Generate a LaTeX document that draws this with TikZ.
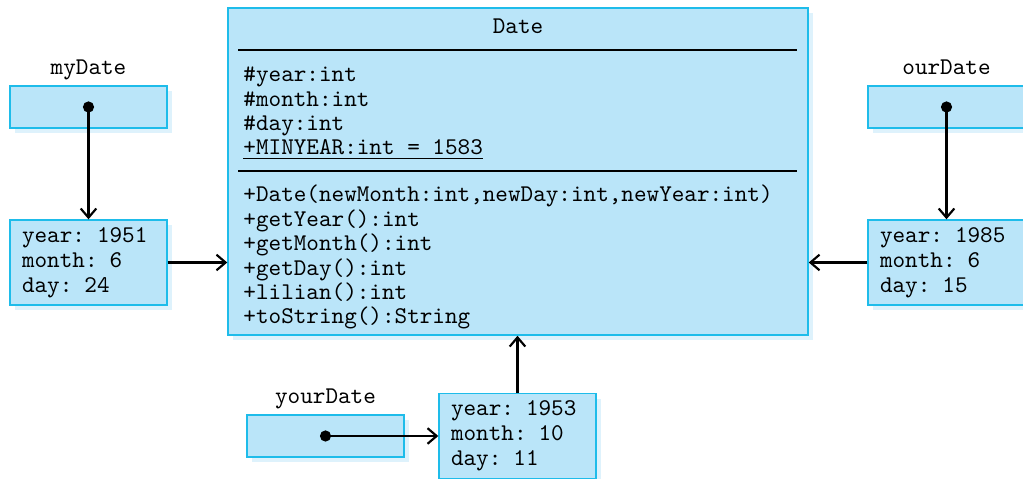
\documentclass[tikz,border=0pt]{standalone}
\usetikzlibrary{arrows.meta, shadows}

\definecolor{boxfill}{RGB}{186,229,249}
\definecolor{boxline}{RGB}{30,188,234}
\definecolor{boxshade}{RGB}{222,242,252}

\begin{document}
\begin{tikzpicture}[x=0.4167pt, y=-0.4167pt, >={Straight Barb[length=3.8pt, width=6.5pt]}]

  % Styles
  \tikzset{
    code/.style={font=\ttfamily\fontsize{10}{10.2}\selectfont},
    box/.style={draw=boxline, line width=0.6pt, fill=boxfill,
      drop shadow={shadow xshift=2.1pt, shadow yshift=-2.1pt, fill=boxshade, opacity=1}},
    refbox/.style={box, minimum width=65.4pt, minimum height=17.5pt, inner sep=0pt,
      label={[code, text depth=2.2pt, label distance=-1.4pt]above:#1}},
    objbox/.style={box, font=\ttfamily\fontsize{10}{10.5}\selectfont, align=left,
      text width=55.4pt, inner xsep=5pt, inner ysep=0pt, minimum height=35.4pt},
    link/.style={line width=0.9pt, ->},
    pointer/.style={line width=0.9pt, {Circle[length=4.6pt]}->, shorten <=-2.3pt}
  }

  \useasboundingbox (0,0) rectangle (1023,479);

  % --- THE CLASS BOX ---
  \node[box, minimum width=241.7pt, minimum height=136.3pt, inner sep=0pt] (date) at (518,171.5) {};
  \node[code, anchor=base] (title) at (518,34) {Date};
  \draw[line width=0.5pt] (238,50) -- (797,50);
  \draw[line width=0.5pt] (238,171) -- (797,171);
  % base anchor sits on the last line
  \node[code, anchor=base west, align=left, inner sep=0pt] (fields) at (243,155) {
    \#year:int\\
    \#month:int\\
    \#day:int\\
    \underline{+MINYEAR:int = 1583}};
  \node[code, anchor=base west, align=left, inner sep=0pt] (methods) at (243,324) {
    +Date(newMonth:int,newDay:int,newYear:int)\\
    +getYear():int\\
    +getMonth():int\\
    +getDay():int\\
    +lilian():int\\
    +toString():String};

  % --- REFERENCES ---
  \node[refbox=myDate] (myref) at (88.5,107) {};
  \node[refbox=ourDate] (ourref) at (946.5,107) {};
  \node[refbox=yourDate] (yourref) at (325.5,436) {};

  % --- OBJECTS ---
  \node[objbox] (myobj) at (88.5,262.5) {year: 1951\\month: 6\\day: 24};
  \node[objbox] (ourobj) at (946.5,262.5) {year: 1985\\month: 6\\day: 15};
  \node[objbox] (yourobj) at (517.5,436) {year: 1953\\month: 10\\day: 11};

  % --- POINTERS & LINKS ---
  \draw[pointer] (myref.center) -- (myobj.north);
  \draw[pointer] (ourref.center) -- (ourobj.north);
  \draw[pointer] (yourref.center) -- (yourobj.west);
  \draw[link] (myobj.east) -- (myobj.east -| date.west);
  \draw[link] (ourobj.west) -- (ourobj.west -| date.east);
  \draw[link] (yourobj.north) -- (yourobj.north |- date.south);

\end{tikzpicture}
\end{document}
